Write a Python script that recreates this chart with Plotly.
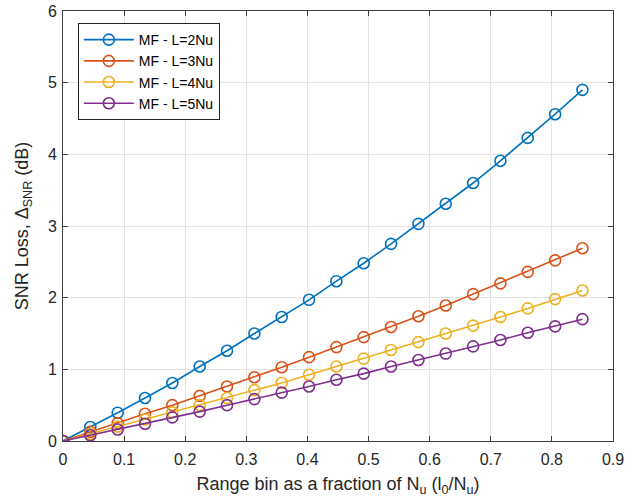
import plotly.graph_objects as go

x_frac = [0.0, 0.0447, 0.0895, 0.1342, 0.1789, 0.2237, 0.2684, 0.3132, 0.3579, 0.4026,
          0.4474, 0.4921, 0.5368, 0.5816, 0.6263, 0.6711, 0.7158, 0.7605, 0.8053, 0.85]

loss_L2 = [0.0, 0.195, 0.395, 0.60, 0.81, 1.04, 1.26, 1.50, 1.73, 1.97,
           2.23, 2.48, 2.75, 3.03, 3.31, 3.60, 3.91, 4.23, 4.56, 4.90]
loss_L3 = [0.0, 0.13, 0.25, 0.38, 0.50, 0.63, 0.76, 0.89, 1.03, 1.17,
           1.31, 1.45, 1.59, 1.74, 1.89, 2.05, 2.20, 2.36, 2.52, 2.69]
loss_L4 = [0.0, 0.10, 0.20, 0.30, 0.40, 0.50, 0.60, 0.71, 0.81, 0.925,
           1.04, 1.15, 1.27, 1.38, 1.50, 1.61, 1.73, 1.85, 1.98, 2.10]
loss_L5 = [0.0, 0.08, 0.16, 0.24, 0.33, 0.41, 0.50, 0.585, 0.675, 0.76,
           0.855, 0.94, 1.04, 1.13, 1.22, 1.32, 1.41, 1.51, 1.60, 1.70]

names = ["MF - L=2Nu", "MF - L=3Nu", "MF - L=4Nu", "MF - L=5Nu"]
colors = ["#0072BD", "#D95319", "#EDB120", "#7E2F8E"]
series = [loss_L2, loss_L3, loss_L4, loss_L5]

x_ticks = [0, 0.1, 0.2, 0.3, 0.4, 0.5, 0.6, 0.7, 0.8, 0.9]
x_ticktext = ["0", "0.1", "0.2", "0.3", "0.4", "0.5", "0.6", "0.7", "0.8", "0.9"]
y_ticks = [0, 1, 2, 3, 4, 5, 6]

fig = go.Figure()
for n, c, s in zip(names, colors, series):
    fig.add_trace(go.Scatter(
        x=x_frac, y=s, name=n, mode="lines+markers",
        line=dict(color=c, width=1.6),
        marker=dict(symbol="circle-open", size=11, color=c, line=dict(width=1.6, color=c)),
    ))

axis_common = dict(
    showline=True, linecolor="#404040", linewidth=1, mirror="ticks",
    ticks="inside", ticklen=5, tickcolor="#404040",
    showgrid=True, gridcolor="#e3e3e3", gridwidth=1, zeroline=False,
    automargin=False,
    tickfont=dict(family="Liberation Sans, Arial", size=16, color="#262626"),
)

fig.update_layout(
    width=639, height=504,
    margin=dict(l=63, r=26, t=11, b=63, autoexpand=False),
    paper_bgcolor="white", plot_bgcolor="white",
    font=dict(family="Liberation Sans, Arial", size=16, color="#262626"),
    xaxis=dict(range=[0, 0.9], tickvals=x_ticks, ticktext=x_ticktext,
               ticklabelstandoff=4,
               title=dict(text="Range bin as a fraction of N<sub>u</sub> (l<sub>0</sub>/N<sub>u</sub>)",
                          font=dict(size=18, color="#262626"), standoff=10),
               **axis_common),
    yaxis=dict(range=[0, 6], tickvals=y_ticks,
               ticklabelstandoff=2,
               title=dict(text="SNR Loss, Δ<sub>SNR</sub> (dB)",
                          font=dict(size=18, color="#262626"), standoff=14),
               **axis_common),
    legend=dict(x=0.027, y=0.972, xanchor="left", yanchor="top",
                bgcolor="white", bordercolor="#262626", borderwidth=1,
                font=dict(size=14, color="#000000"), tracegroupgap=0,
                itemwidth=50),
    showlegend=True,
)

fig.write_html("out.html")
